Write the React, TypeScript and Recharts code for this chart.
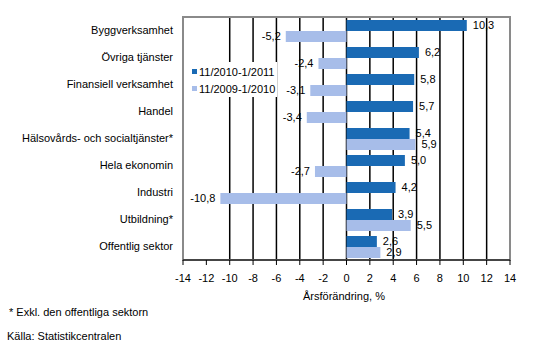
import { BarChart, Bar, XAxis, YAxis, CartesianGrid, ReferenceArea, LabelList } from "recharts";

const categories = [
  "Byggverksamhet",
  "Övriga tjänster",
  "Finansiell verksamhet",
  "Handel",
  "Hälsovårds- och socialtjänster*",
  "Hela ekonomin",
  "Industri",
  "Utbildning*",
  "Offentlig sektor",
];
const current = [10.3, 6.2, 5.8, 5.7, 5.4, 5.0, 4.2, 3.9, 2.6];
const previous = [-5.2, -2.4, -3.1, -3.4, 5.9, -2.7, -10.8, 5.5, 2.9];
const xTicks = [-14, -12, -10, -8, -6, -4, -2, 0, 2, 4, 6, 8, 10, 12, 14];
const seriesNames = ["11/2010-1/2011", "11/2009-1/2010"];

const DARK = "#1A6AB4";
const LIGHT = "#A7BDE9";
const FONT = "'Liberation Sans', Arial, sans-serif";

const data = categories.map((name, i) => ({ name, cur: current[i], prev: previous[i] }));

const fmt = (v: number) => v.toFixed(1).replace(".", ",");

function ValueLabel(props: any) {
  const { x, y, width, height, value } = props;
  const left = Math.min(x, x + width);
  const right = Math.max(x, x + width);
  const neg = value < 0;
  return (
    <text
      x={neg ? left - 5 : right + 6}
      y={y + height / 2}
      dy="0.35em"
      textAnchor={neg ? "end" : "start"}
      fontSize={11}
      fontFamily={FONT}
      fill="#000"
    >
      {fmt(value)}
    </text>
  );
}

function CategoryTick(props: any) {
  const { x, y, payload } = props;
  return (
    <text x={x} y={y} dy="0.35em" textAnchor="end" fontSize={11} fontFamily={FONT} fill="#000">
      {payload.value}
    </text>
  );
}

export default function App() {
  return (
    <div style={{ position: "absolute", left: 0, top: 0, width: 540, height: 357, background: "#fff", fontFamily: FONT }}>
      <BarChart
        width={540}
        height={300}
        data={data}
        layout="vertical"
        margin={{ top: 17, right: 30, left: 0, bottom: 0 }}
        barGap={0}
        barCategoryGap={3}
      >
        <CartesianGrid vertical horizontal={false} stroke="#000" strokeWidth={1.5} />
        <ReferenceArea x1={-14} x2={14} fill="none" stroke="#8a8a8a" strokeWidth={2} ifOverflow="visible" />
        <XAxis
          type="number"
          domain={[-14, 14]}
          ticks={xTicks}
          height={40}
          stroke="#000"
          tickSize={5}
          tickMargin={9}
          tick={{ fontSize: 11, fill: "#000", fontFamily: FONT }}
        />
        <YAxis
          type="category"
          dataKey="name"
          width={183}
          axisLine={false}
          tickLine={false}
          tickSize={0}
          tickMargin={10}
          interval={0}
          tick={CategoryTick}
        />
        <Bar dataKey="cur" fill={DARK} isAnimationActive={false}>
          <LabelList dataKey="cur" content={ValueLabel} />
        </Bar>
        <Bar dataKey="prev" fill={LIGHT} isAnimationActive={false}>
          <LabelList dataKey="prev" content={ValueLabel} />
        </Bar>
      </BarChart>

      <div
        style={{
          position: "absolute",
          left: 185,
          top: 62,
          width: 92,
          height: 35,
          background: "#fff",
          fontSize: 11,
          color: "#000",
        }}
      >
        {seriesNames.map((n, i) => (
          <div key={n} style={{ position: "absolute", left: 7, top: 3 + i * 17, height: 13, display: "flex", alignItems: "center", whiteSpace: "nowrap" }}>
            <span style={{ display: "inline-block", width: 5, height: 5, background: i === 0 ? DARK : LIGHT, marginRight: 2 }} />
            {n}
          </div>
        ))}
      </div>

      <div style={{ position: "absolute", left: 303, top: 290, fontSize: 11, color: "#000" }}>Årsförändring, %</div>
      <div style={{ position: "absolute", left: 9, top: 306, fontSize: 11, color: "#000" }}>* Exkl. den offentliga sektorn</div>
      <div style={{ position: "absolute", left: 7, top: 330, fontSize: 11, color: "#000" }}>Källa: Statistikcentralen</div>
    </div>
  );
}
